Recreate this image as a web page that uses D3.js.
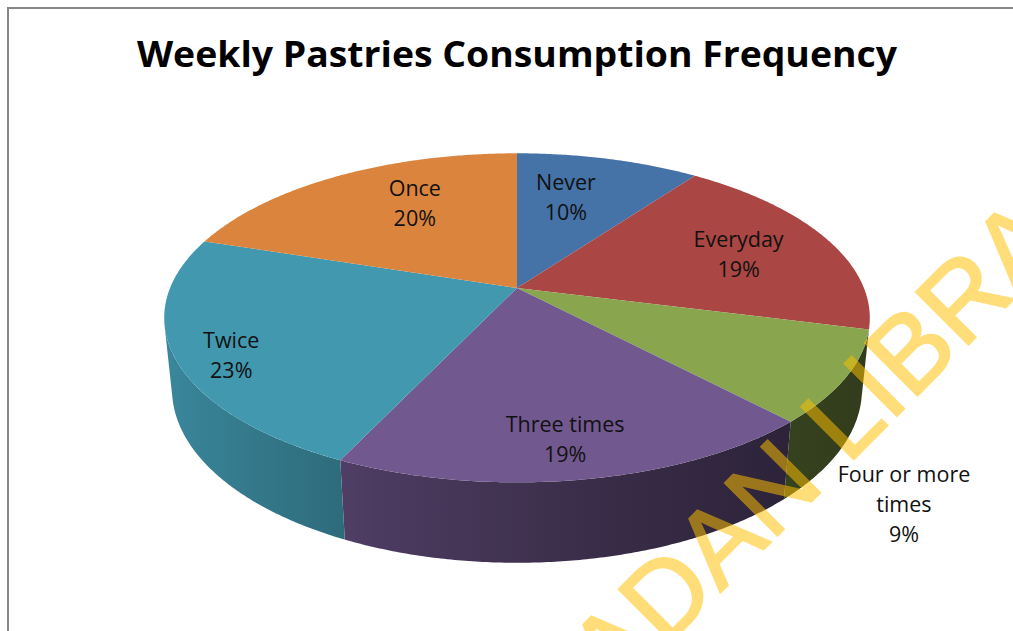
<!DOCTYPE html>
<html>
<head>
<meta charset="utf-8">
<script src="https://cdn.jsdelivr.net/npm/d3@7"></script>
<style>
  html, body { margin: 0; padding: 0; background: #fff; }
  svg { display: block; }
</style>
</head>
<body>
<svg id="chart"></svg>
<script>
// Data
const categories = ["Never", "Everyday", "Four or more times", "Three times", "Twice", "Once"];
const labelLines = [["Never"], ["Everyday"], ["Four or more", "times"], ["Three times"], ["Twice"], ["Once"]];
const shares = [10, 19, 9, 19, 23, 20];

// Styling / layout
const colors = ["#4572a7", "#aa4643", "#89a54e", "#71588f", "#4198af", "#db843d"];
const labelRadius = [0.65, 0.70, 1.41, 0.82, 0.86, 0.67];   // fraction of radius on the top face
const labelTurn = [-4, 1.4, 20, 0.7, -3.8, 6.9];            // degrees away from mid-angle

const W = 1013, H = 631;
const cx = 517, cy = 288;            // screen position of pie centre (top face)
const D = 4.9, k = 1700, thick = 0.233;
const tilt = 27.3 * Math.PI / 180, sT = Math.sin(tilt), cT = Math.cos(tilt);
const FONT = "'Open Sans', sans-serif";

// perspective projection of a point on the disc (theta clockwise from far side)
function proj(theta, r, y) {
  const X = r * Math.sin(theta), Z = -r * Math.cos(theta);
  const depth = D - y * sT - Z * cT;
  return [cx + k * X / depth, cy - k * (y * cT - Z * sT) / depth];
}
function rim(a0, a1, r, y) {
  const n = Math.max(2, Math.ceil(Math.abs(a1 - a0) / (Math.PI / 360)));
  return d3.range(n + 1).map(i => proj(a0 + (a1 - a0) * i / n, r, y));
}

const svg = d3.select("#chart").attr("width", W).attr("height", H).attr("viewBox", `0 0 ${W} ${H}`);

const arcs = d3.pie().sort(null).value(d => d)(shares);
const line = d3.line();

// side gradients, darker to the right
const defs = svg.append("defs");
colors.forEach((col, i) => {
  const g = defs.append("linearGradient")
    .attr("id", "side" + i).attr("gradientUnits", "userSpaceOnUse")
    .attr("x1", 160).attr("x2", 880).attr("y1", 0).attr("y2", 0);
  d3.range(0, 1.001, 0.1).forEach(t => {
    const x = 160 + t * 720;
    const dk = 0.36 + (x - 170) * 0.00358;
    g.append("stop").attr("offset", t).attr("stop-color", d3.color(col).darker(dk).formatHex());
  });
});

// Side walls (only the visible front part)
const th0 = Math.acos(-1 / (D * cT));
const sides = svg.append("g");
arcs.forEach((a, i) => {
  const s = Math.max(a.startAngle, th0), e = Math.min(a.endAngle, 2 * Math.PI - th0);
  if (s >= e) return;
  const pts = rim(s, e, 1, 0).concat(rim(e, s, 1, -thick));
  sides.append("path")
    .attr("d", line(pts) + "Z")
    .attr("fill", `url(#side${i})`);
});

// Top faces
const tops = svg.append("g");
arcs.forEach((a, i) => {
  const pts = [proj(0, 0, 0)].concat(rim(a.startAngle, a.endAngle, 1, 0));
  tops.append("path")
    .attr("d", line(pts) + "Z")
    .attr("fill", colors[i]);
});

// Title
svg.append("text")
  .attr("x", 517).attr("y", 67)
  .attr("text-anchor", "middle")
  .attr("textLength", 760).attr("lengthAdjust", "spacingAndGlyphs")
  .style("font-family", FONT).style("font-weight", 700).style("font-size", "36px")
  .style("fill", "#000")
  .text("Weekly Pastries Consumption Frequency");

// Data labels
const labels = svg.append("g");
arcs.forEach((a, i) => {
  const mid = (a.startAngle + a.endAngle) / 2 + labelTurn[i] * Math.PI / 180;
  const p = proj(mid, labelRadius[i], 0);
  const lines = labelLines[i].concat([shares[i] + "%"]);
  const bh = 15 + 30 * (lines.length - 1);
  const t = labels.append("text")
    .attr("text-anchor", "middle")
    .style("font-family", FONT).style("font-size", "21.5px")
    .style("fill", "#111");
  lines.forEach((ln, j) => {
    t.append("tspan")
      .attr("x", p[0]).attr("y", p[1] - bh / 2 + 15 + j * 30)
      .text(ln);
  });
});

// Watermark
svg.append("text")
  .attr("transform", "translate(542,771) rotate(-45)")
  .style("font-family", "'Liberation Sans', Arial, sans-serif")
  .style("font-size", "108px")
  .style("fill", "#ffc000").style("stroke", "#ffc000").style("stroke-width", 2)
  .style("opacity", 0.52)
  .text("IBADAN LIBRARY");

// Chart area border
svg.append("rect")
  .attr("x", 8).attr("y", 8).attr("width", 1040).attr("height", 660)
  .attr("fill", "none").attr("stroke", "#878787").attr("stroke-width", 2);
</script>
</body>
</html>
